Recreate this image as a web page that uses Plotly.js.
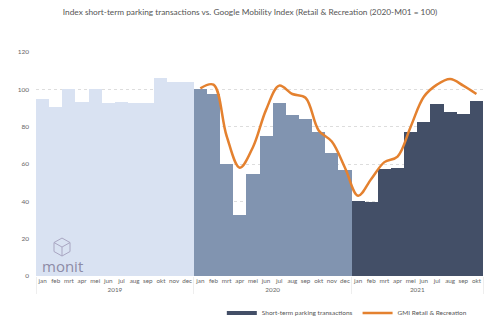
<!DOCTYPE html>
<html>
<head>
<meta charset="utf-8">
<script src="https://cdn.plot.ly/plotly-3.0.1.min.js"></script>
<style>html,body{margin:0;padding:0;background:#fff;}#chart{width:500px;height:326px;}</style>
</head>
<body>
<div id="chart"></div>
<script>
const months2019 = ["jan","feb","mrt","apr","mei","jun","jul","aug","sep","okt","nov","dec"];
const months2020 = ["jan","feb","mrt","apr","mei","jun","jul","aug","sep","okt","nov","dec"];
const months2021 = ["jan","feb","mrt","apr","mei","jun","jul","aug","sep","okt"];

const parking2019 = [95, 90.5, 100, 93, 100, 92.6, 93, 92.8, 92.6, 106, 104, 104];
const parking2020 = [100, 97.5, 59.8, 32.5, 54.5, 75, 92.7, 86, 84, 76.9, 66, 56.8];
const parking2021 = [40.2, 39.6, 57.3, 57.6, 76.9, 82.3, 92.2, 87.8, 86.8, 94];

const gmi2020 = [100.5, 102.5, 75, 58, 69, 89, 102, 97.5, 95.5, 78, 72, 58];
const gmi2021 = [43, 52, 61, 64, 80, 96, 102.5, 105.5, 102, 97.5];

const yearOf = (y, arr) => arr.map(() => y);

const font = "Lato, 'Open Sans', sans-serif";

const traces = [
  {type: "bar", name: "2019", showlegend: false,
   x: [yearOf("2019", months2019), months2019], y: parking2019,
   marker: {color: "#d9e2f2"}, hoverinfo: "y"},
  {type: "bar", name: "2020", showlegend: false,
   x: [yearOf("2020", months2020), months2020], y: parking2020,
   marker: {color: "#8194b0"}, hoverinfo: "y"},
  {type: "bar", name: "Short-term parking transactions", showlegend: false,
   x: [yearOf("2021", months2021), months2021], y: parking2021,
   marker: {color: "#434f67"}, hoverinfo: "y"},
  {type: "scatter", mode: "lines", name: "GMI Retail & Recreation", showlegend: false,
   x: [yearOf("2020", months2020).concat(yearOf("2021", months2021)), months2020.concat(months2021)],
   y: gmi2020.concat(gmi2021),
   line: {color: "#e4812f", width: 2.5, shape: "spline", smoothing: 1}},
  // legend entries
  {type: "scatter", mode: "lines", name: "Short-term parking transactions", x: [null], y: [null],
   line: {color: "#434f67", width: 4}},
  {type: "scatter", mode: "lines", name: "GMI Retail & Recreation", x: [null], y: [null],
   line: {color: "#e4812f", width: 2.5}}
];

// pixel -> paper helpers for the logo decoration
const L = 36, R = 483, T = 51.7, B = 276;
const px = v => (v - L) / (R - L);
const py = v => (B - v) / (B - T);
function iconPath(pts) { return pts.map((p, i) => (i ? "L" : "M") + px(p[0]).toFixed(4) + "," + py(p[1]).toFixed(4)).join(" "); }

const cx = 62, cy = 247;
const hex = [[cx, cy-9],[cx+8, cy-4.5],[cx+8, cy+4.5],[cx, cy+9],[cx-8, cy+4.5],[cx-8, cy-4.5],[cx, cy-9]];
const inner = [[cx-8, cy-4.5],[cx, cy],[cx+8, cy-4.5]];
const mid = [[cx, cy],[cx, cy+9]];

const layout = {
  width: 500, height: 326,
  margin: {l: L, r: 500 - R, t: T, b: 326 - B, pad: 0, autoexpand: false},
  paper_bgcolor: "#fff", plot_bgcolor: "#fff",
  font: {family: font, color: "#666", size: 7},
  title: {text: "Index short-term parking transactions vs. Google Mobility Index (Retail & Recreation (2020-M01 = 100)",
          font: {family: font, size: 8.3, color: "#555"}, x: 0.5, xanchor: "center", y: 1 - 12/326, yanchor: "middle"},
  bargap: 0, barmode: "overlay",
  xaxis: {type: "multicategory", tickfont: {size: 6.3, color: "#666"}, showgrid: false, tickangle: 0,
          showdividers: true, dividercolor: "#eee", dividerwidth: 1, showline: false, ticks: "", automargin: false},
  yaxis: {range: [0, 120], tickvals: [0, 20, 40, 60, 80, 100, 120], tickfont: {size: 6.5, color: "#666"},
          showgrid: true, gridcolor: "#ddd", griddash: "dot", gridwidth: 1, zeroline: false, showline: false,
          ticklabelstandoff: 6, automargin: false},
  showlegend: true,
  legend: {orientation: "h", x: 0.975, xanchor: "right", y: (B - 313) / (B - T), yanchor: "middle",
           font: {size: 6.5, color: "#555"}, tracegroupgap: 0},
  annotations: [
    {text: "monit", xref: "paper", yref: "paper", x: px(62), y: py(266), xanchor: "center", yanchor: "middle",
     showarrow: false, font: {family: "'Open Sans', Lato, sans-serif", size: 15, color: "#8d8ba6"}}
  ],
  shapes: [
    {type: "path", xref: "paper", yref: "paper", path: iconPath(hex), line: {color: "#a9a6c2", width: 1}},
    {type: "path", xref: "paper", yref: "paper", path: iconPath(inner), line: {color: "#a9a6c2", width: 1}},
    {type: "path", xref: "paper", yref: "paper", path: iconPath(mid), line: {color: "#a9a6c2", width: 1}}
  ]
};

Plotly.newPlot("chart", traces, layout, {displayModeBar: false, staticPlot: true});
</script>
</body>
</html>
